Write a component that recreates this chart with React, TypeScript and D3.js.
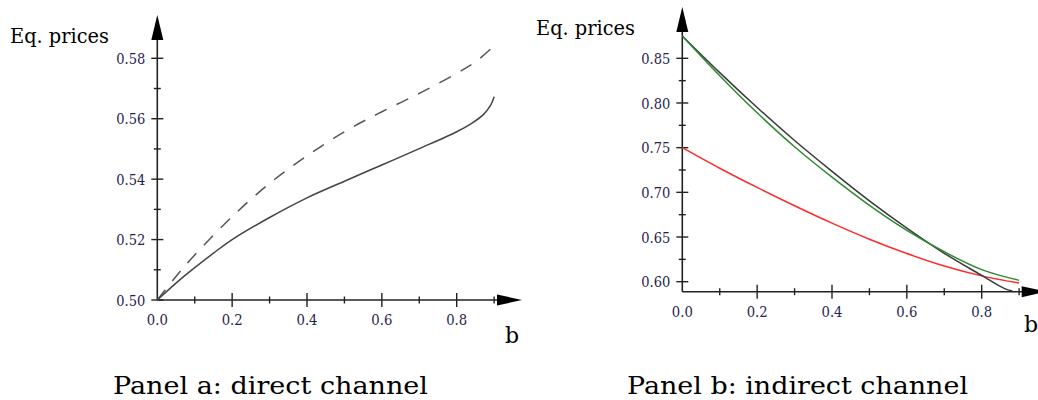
import React, { useEffect, useRef } from "react";
import * as d3 from "d3";

// panel a: direct channel
const bA = [0, 0.05, 0.1, 0.15, 0.2, 0.3, 0.4, 0.5, 0.6, 0.7, 0.8, 0.84, 0.87, 0.89, 0.9];
const solidA = [0.5, 0.5056, 0.5107, 0.5155, 0.52, 0.5273, 0.5338, 0.5393, 0.5447, 0.5501, 0.5557, 0.5585, 0.5612, 0.5643, 0.5673];
const bDash = [0, 0.05, 0.1, 0.2, 0.3, 0.4, 0.5, 0.6, 0.7, 0.8, 0.85, 0.9];
const dashedA = [0.5, 0.5078, 0.5149, 0.5276, 0.5386, 0.5477, 0.5557, 0.5623, 0.5684, 0.575, 0.5788, 0.5841];
const yTicksA = [0.5, 0.52, 0.54, 0.56, 0.58];

// panel b: indirect channel
const bB = [0, 0.1, 0.2, 0.3, 0.4, 0.5, 0.6, 0.7, 0.8, 0.9];
const bBlack = [0, 0.1, 0.2, 0.3, 0.4, 0.5, 0.6, 0.7, 0.8, 0.86, 0.882];
const blackB = [0.875, 0.834, 0.795, 0.758, 0.7235, 0.6905, 0.66, 0.6318, 0.607, 0.5925, 0.5895];
const greenB = [0.875, 0.8305, 0.789, 0.751, 0.717, 0.6855, 0.6575, 0.6335, 0.6135, 0.6015];
const redB = [0.75, 0.727, 0.7055, 0.685, 0.6655, 0.6475, 0.6315, 0.6175, 0.6065, 0.5985];
const yTicksB = [0.6, 0.65, 0.7, 0.75, 0.8, 0.85];
const xTicks = [0, 0.2, 0.4, 0.6, 0.8];

const FONT = "'DejaVu Serif', serif";
const LABEL = "#1f2350";
const AXIS = "#222";

function drawPanel(svg, opt) {
  const g = svg.append("g");
  const x = d3.scaleLinear().domain([0, 0.9]).range([opt.x0, opt.x0 + 0.9 * 374.25]);
  const y = d3.scaleLinear().domain(opt.yDomain).range(opt.yRange);
  const axisY = y(opt.yMin);

  // x minor + major ticks (cross the axis)
  d3.range(1, 10).forEach((i) => {
    const v = i / 10;
    const h = i % 2 === 0 ? 7 : 3.5;
    g.append("line")
      .attr("x1", x(v)).attr("x2", x(v))
      .attr("y1", axisY - h).attr("y2", axisY + h)
      .attr("stroke", AXIS).attr("stroke-width", 1.4);
  });
  // y ticks
  opt.yAll.forEach((v, i) => {
    const h = i % 2 === 0 ? 6 : 3.5;
    g.append("line")
      .attr("x1", opt.x0 - h).attr("x2", opt.x0 + h)
      .attr("y1", y(v)).attr("y2", y(v))
      .attr("stroke", AXIS).attr("stroke-width", 1.4);
  });

  // axes lines
  g.append("line")
    .attr("x1", opt.x0).attr("x2", opt.xArrowBase + 2)
    .attr("y1", axisY).attr("y2", axisY)
    .attr("stroke", AXIS).attr("stroke-width", 1.6);
  g.append("line")
    .attr("x1", opt.x0).attr("x2", opt.x0)
    .attr("y1", axisY).attr("y2", opt.yArrowTip + 20)
    .attr("stroke", AXIS).attr("stroke-width", 1.6);

  // arrow heads
  g.append("path")
    .attr("d", `M${opt.x0},${opt.yArrowTip} L${opt.x0 - 6},${opt.yArrowTip + 25} L${opt.x0 + 6},${opt.yArrowTip + 25} Z`)
    .attr("fill", "#000");
  g.append("path")
    .attr("d", `M${opt.xArrowBase + 25},${axisY} L${opt.xArrowBase},${axisY - 5.5} L${opt.xArrowBase},${axisY + 5.5} Z`)
    .attr("fill", "#000");

  // tick labels
  g.selectAll("text.xt").data(xTicks).enter().append("text")
    .attr("x", (d) => x(d)).attr("y", axisY + 25)
    .attr("text-anchor", "middle")
    .style("font-family", FONT).style("font-size", "15.5px").attr("fill", LABEL)
    .attr("textLength", 21).attr("lengthAdjust", "spacingAndGlyphs")
    .text((d) => d3.format(".1f")(d));
  g.selectAll("text.yt").data(opt.yLabels).enter().append("text")
    .attr("x", opt.x0 - 12).attr("y", (d) => y(d))
    .attr("dy", "0.36em")
    .attr("text-anchor", "end")
    .style("font-family", FONT).style("font-size", "15.5px").attr("fill", LABEL)
    .attr("textLength", 29).attr("lengthAdjust", "spacingAndGlyphs")
    .text((d) => d3.format(".2f")(d));

  // axis titles
  g.append("text")
    .attr("x", opt.titleX).attr("y", opt.titleY)
    .style("font-family", FONT).style("font-size", "20px")
    .attr("textLength", 99).attr("lengthAdjust", "spacingAndGlyphs")
    .text("Eq. prices");
  g.append("text")
    .attr("x", opt.bX).attr("y", opt.bY)
    .style("font-family", FONT).style("font-size", "22px")
    .text("b");

  // caption
  g.append("text")
    .attr("x", opt.capX).attr("y", 394)
    .style("font-family", FONT).style("font-size", "24px")
    .attr("textLength", opt.capW).attr("lengthAdjust", "spacingAndGlyphs")
    .text(opt.caption);

  const line = d3.line().curve(d3.curveCatmullRom.alpha(0.5));
  opt.series.forEach((s) => {
    g.append("path")
      .attr("d", line(s.xs.map((b, i) => [x(b), y(s.ys[i])])))
      .attr("fill", "none")
      .attr("stroke", s.color)
      .attr("stroke-width", 1.5)
      .attr("stroke-dasharray", s.dash || null);
  });
}

export default function App() {
  const ref = useRef(null);

  useEffect(() => {
    const svg = d3.select(ref.current);
    svg.selectAll("*").remove();

    drawPanel(svg, {
      x0: 157.3,
      yDomain: [0.5, 0.58],
      yRange: [300, 58.3],
      yMin: 0.5,
      yAll: d3.range(0, 9).map((i) => 0.5 + i * 0.01),
      yLabels: yTicksA,
      yArrowTip: 15,
      xArrowBase: 497,
      titleX: 10, titleY: 43,
      bX: 505, bY: 343,
      capX: 113, capW: 315,
      caption: "Panel a: direct channel",
      series: [
        { xs: bDash, ys: dashedA, color: "#555", dash: "13,11" },
        { xs: bA, ys: solidA, color: "#444" },
      ],
    });

    drawPanel(svg, {
      x0: 682.3,
      yDomain: [0.6, 0.85],
      yRange: [281.7, 58.3],
      yMin: 0.5888,
      yAll: d3.range(0, 11).map((i) => 0.6 + i * 0.025),
      yLabels: yTicksB,
      yArrowTip: 7,
      xArrowBase: 1021.7,
      titleX: 536, titleY: 35,
      bX: 1024, bY: 332,
      capX: 627, capW: 341,
      caption: "Panel b: indirect channel",
      series: [
        { xs: bB, ys: redB, color: "#ff2a2a" },
        { xs: bBlack, ys: blackB, color: "#3a3a3a" },
        { xs: bB, ys: greenB, color: "#2f8a2f" },
      ],
    });
  }, []);

  return (
    <svg
      ref={ref}
      width={1038}
      height={400}
      style={{ position: "absolute", left: 0, top: 0, background: "#fff" }}
    />
  );
}
